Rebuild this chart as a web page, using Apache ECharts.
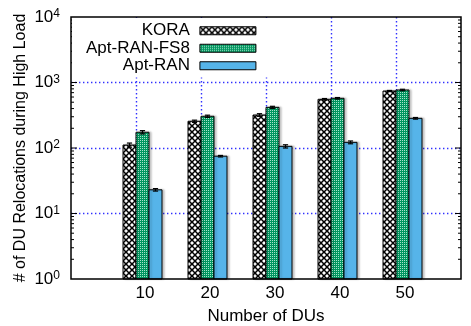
<!DOCTYPE html>
<html>
<head>
<meta charset="utf-8">
<script src="https://cdn.jsdelivr.net/npm/echarts@6/dist/echarts.min.js"></script>
<style>
  html, body { margin: 0; padding: 0; background: #fff; }
  #chart { width: 471px; height: 326px; }
</style>
</head>
<body>
<div id="chart"></div>
<script>
// Number of DUs on the x axis
const duCounts = [10, 20, 30, 40, 50];

// Mean relocations during high load, per scheme
const koraValues = [111, 256, 319, 554, 741];
const fs8Values = [174, 305, 418, 574, 768];
const aptRanValues = [23, 75, 106, 122, 284];

// Half-width of the error bars
const koraErrors = [8, 10, 15, 15, 15];
const fs8Errors = [10, 12, 15, 15, 20];
const aptRanErrors = [1, 2, 6, 6, 8];

const seriesNames = ['KORA', 'Apt-RAN-FS8', 'Apt-RAN'];
// Log-axis minor tick multipliers
const minorSteps = [2, 3, 4, 5, 6, 7, 8, 9];
const decades = [1, 10, 100, 1000];

const FONT = '"Liberation Sans", Arial, Helvetica, sans-serif';

// Cross-hatch fill
function hatchPattern() {
  const c = document.createElement('canvas');
  const s = 6;
  c.width = s; c.height = s;
  const g = c.getContext('2d');
  g.fillStyle = '#fff';
  g.fillRect(0, 0, s, s);
  g.strokeStyle = '#000';
  g.lineWidth = 1.5;
  g.beginPath();
  g.moveTo(-1, -1); g.lineTo(s + 1, s + 1);
  g.moveTo(s + 1, -1); g.lineTo(-1, s + 1);
  g.stroke();
  return { image: c, repeat: 'repeat' };
}

// Fine green checker fill
function checkerPattern() {
  const c = document.createElement('canvas');
  c.width = 2; c.height = 2;
  const g = c.getContext('2d');
  g.fillStyle = '#00965f';
  g.fillRect(0, 0, 2, 2);
  g.fillStyle = '#a8e4cc';
  g.fillRect(0, 0, 1, 1);
  return { image: c, repeat: 'repeat' };
}

const fills = [hatchPattern(), checkerPattern(), '#56b4e9'];
// Bar extent within a cluster, in x-axis units relative to the DU count
const barSpans = [[-2, 0], [0, 2], [2, 4]];
const valueSets = [koraValues, fs8Values, aptRanValues];
const errorSets = [koraErrors, fs8Errors, aptRanErrors];

function barSeries(idx) {
  const span = barSpans[idx];
  return {
    name: seriesNames[idx],
    type: 'custom',
    itemStyle: { color: fills[idx], borderColor: '#000', borderWidth: 1 },
    data: duCounts.map((d, i) => [d, valueSets[idx][i], errorSets[idx][i]]),
    encode: { x: 0, y: 1 },
    renderItem: function (params, api) {
      const x = api.value(0), v = api.value(1), e = api.value(2);
      const top = api.coord([x + span[0], v]);
      const base = api.coord([x + span[1], 1]);
      const mid = (span[0] + span[1]) / 2;
      const hi = api.coord([x + mid, v + e]);
      const lo = api.coord([x + mid, v - e]);
      const capL = api.coord([x + mid - 0.4, v])[0];
      const capR = api.coord([x + mid + 0.4, v])[0];
      const errStyle = { stroke: '#000', lineWidth: 1.2 };
      return {
        type: 'group',
        children: [
          {
            type: 'rect',
            shape: { x: top[0], y: top[1], width: base[0] - top[0], height: base[1] - top[1] },
            style: {
              fill: fills[idx], stroke: '#000', lineWidth: 1,
              shadowColor: 'rgba(0,0,0,0.22)', shadowBlur: 2, shadowOffsetX: 2, shadowOffsetY: 0
            }
          },
          { type: 'line', shape: { x1: hi[0], y1: hi[1], x2: lo[0], y2: lo[1] }, style: errStyle },
          { type: 'line', shape: { x1: capL, y1: hi[1], x2: capR, y2: hi[1] }, style: errStyle },
          { type: 'line', shape: { x1: capL, y1: lo[1], x2: capR, y2: lo[1] }, style: errStyle }
        ]
      };
    }
  };
}

// Inward ticks on both vertical sides of the frame
const tickData = [];
decades.forEach(d => {
  if (d > 1) tickData.push([0, d, 1]);
  minorSteps.forEach(m => tickData.push([0, d * m, 0]));
});

const tickSeries = {
  type: 'custom',
  silent: true,
  data: tickData,
  encode: { x: 0, y: 1 },
  renderItem: function (params, api) {
    const v = api.value(1);
    const major = api.value(2) === 1;
    const len = major ? 6 : 3;
    const l = api.coord([0, v]);
    const r = api.coord([60, v]);
    const st = { stroke: '#000', lineWidth: 1 };
    return {
      type: 'group',
      children: [
        { type: 'line', shape: { x1: l[0], y1: l[1], x2: l[0] + len, y2: l[1] }, style: st },
        { type: 'line', shape: { x1: r[0], y1: r[1], x2: r[0] - len, y2: r[1] }, style: st }
      ]
    };
  }
};

const gridLine = { color: '#3030ff', width: 1.4, type: [1.4, 2.6] };

const chart = echarts.init(document.getElementById('chart'), null, { renderer: 'canvas' });
chart.setOption({
  animation: false,
  textStyle: { fontFamily: FONT },
  grid: {
    left: 71, right: 10, top: 17, bottom: 47,
    outerBoundsMode: 'none',
    containLabel: false,
    show: true, borderColor: '#000', borderWidth: 1.5, backgroundColor: 'transparent', z: 3
  },
  legend: {
    orient: 'vertical',
    align: 'right',
    left: 72, top: 18,
    padding: [4, 42, 3, 14],
    backgroundColor: '#fff',
    itemWidth: 56, itemHeight: 8, itemGap: 0,
    selectedMode: false,
    textStyle: { fontSize: 17, color: '#000', fontFamily: FONT, lineHeight: 17.5, padding: [0, 5, 0, 0] },
    data: seriesNames.map((n, i) => ({
      name: n, icon: 'rect',
      itemStyle: { color: fills[i], borderColor: '#000', borderWidth: 1 }
    }))
  },
  xAxis: {
    type: 'value',
    min: 0, max: 60, interval: 10,
    name: 'Number of DUs',
    nameLocation: 'middle',
    nameGap: 29,
    nameMoveOverlap: false,
    nameTextStyle: { fontSize: 17, color: '#000', fontFamily: FONT },
    axisLine: { show: false },
    axisTick: { show: false },
    axisLabel: {
      fontSize: 17, color: '#000', margin: 6, padding: [0, 0, 0, 18],
      formatter: v => (v > 0 && v < 60 ? String(v) : '')
    },
    splitLine: { show: true, showMinLine: false, showMaxLine: false, lineStyle: gridLine }
  },
  yAxis: {
    type: 'log',
    logBase: 10,
    min: 1, max: 10000,
    name: '# of DU Relocations during High Load',
    nameLocation: 'middle',
    nameGap: 42,
    nameMoveOverlap: false,
    nameTextStyle: { fontSize: 16, color: '#000', fontFamily: FONT },
    axisLine: { show: false },
    axisTick: { show: false },
    axisLabel: {
      margin: 11,
      formatter: v => '{b|10}{s|' + Math.round(Math.log10(v)) + '}',
      rich: {
        b: { fontSize: 17, color: '#000', fontFamily: FONT, lineHeight: 18 },
        s: { fontSize: 12, color: '#000', fontFamily: FONT, verticalAlign: 'top', lineHeight: 12 }
      }
    },
    splitLine: { show: true, showMinLine: false, showMaxLine: false, lineStyle: gridLine }
  },
  series: [barSeries(0), barSeries(1), barSeries(2), tickSeries]
});
</script>
</body>
</html>
